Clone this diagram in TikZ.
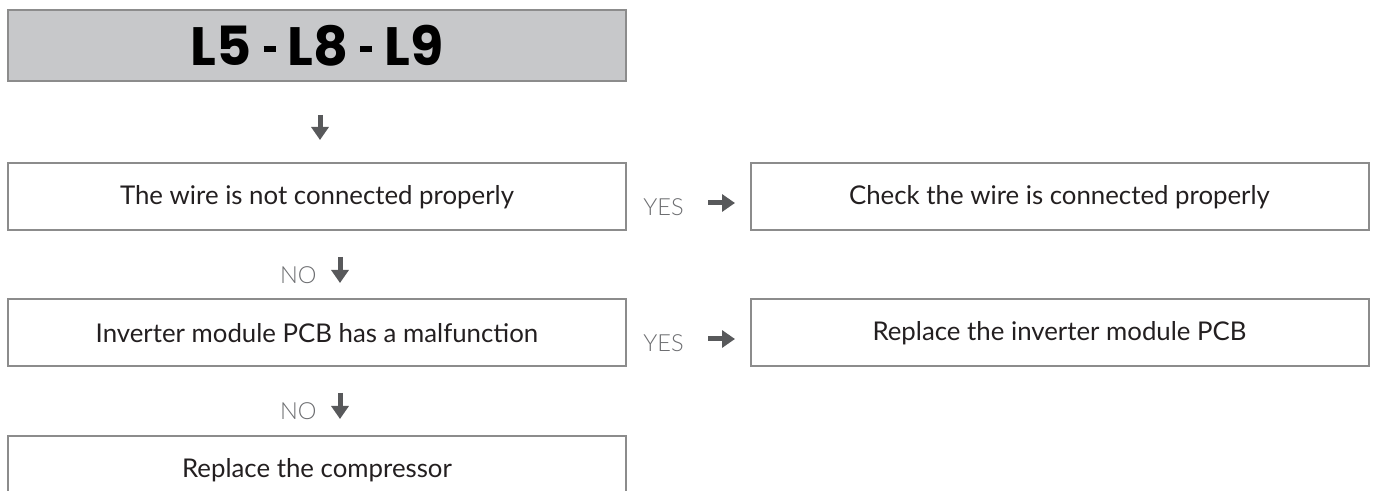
\documentclass[tikz,border=0pt]{standalone}
\usepackage{fontspec}
\setmainfont{Lato}
\newfontfamily\titlefont{Poppins}
\newfontfamily\lightfont{Lato Light}
\usetikzlibrary{arrows.meta,positioning}

\definecolor{boxline}{HTML}{8C8C8C}
\definecolor{headfill}{HTML}{C7C8CA}
\definecolor{txt}{HTML}{231F20}
\definecolor{anscol}{HTML}{6D6E71}
\definecolor{arrcol}{HTML}{58595B}
\newcommand\codesep{\hspace{6pt}\rule[7pt]{6pt}{2.8pt}\hspace{6pt}}

\begin{document}
\begin{tikzpicture}[x=0.5pt, y=-0.5pt,
    box/.style={draw=boxline, line width=1pt, minimum width=309pt, minimum height=33.5pt,
      inner sep=0pt, text=txt, font=\fontsize{12.9}{15}\selectfont},
    head/.style={box, fill=headfill, minimum height=35.5pt, text=black,
      font=\titlefont\bfseries\fontsize{27}{32}\selectfont},
    ans/.style={inner sep=0pt, text=anscol, font=\lightfont\fontsize{11.8}{14}\selectfont},
    line/.style={-{Triangle[width=8.5pt, length=6.5pt]}, line width=2.5pt, arrcol},
  ]
  \useasboundingbox (0,0) rectangle (1381,491);
  \clip (0,0) rectangle (1381,491);
  % boxes
  \node[head] (hd) at (317,46) {L5\codesep L8\codesep L9};
  \node[box] (q1) at (317,197) {The wire is not connected properly};
  \node[box] (r1) at (1059.5,197) {Check the wire is connected properly};
  \node[box] (q2) at (317,333) {Inverter module PCB has a malfunction};
  \node[box] (r2) at (1059.5,333) {Replace the inverter module PCB};
  \node[box] (q3) at (317,470) {Replace the compressor};
  % answers
  \node[ans, anchor=base west] (y1) at (643,216) {YES};
  \node[ans, anchor=base west] (y2) at (643,352) {YES};
  \node[ans, anchor=base east] (n1) at (317,284) {NO};
  \node[ans, anchor=base east] (n2) at (317,420) {NO};
  % arrow ends
  \coordinate (d0a) at (320,115);  \coordinate (d0b) at (320,140);
  \coordinate (d1a) at (340,257);  \coordinate (d1b) at (340,283);
  \coordinate (d2a) at (340,393);  \coordinate (d2b) at (340,419);
  \coordinate (e1a) at (708,203);  \coordinate (e1b) at (735,203);
  \coordinate (e2a) at (708,339);  \coordinate (e2b) at (735,339);
  \draw[line] (d0a) -- (d0b);
  \draw[line] (d1a) -- (d1b);
  \draw[line] (d2a) -- (d2b);
  \draw[line] (e1a) -- (e1b);
  \draw[line] (e2a) -- (e2b);
\end{tikzpicture}
\end{document}
